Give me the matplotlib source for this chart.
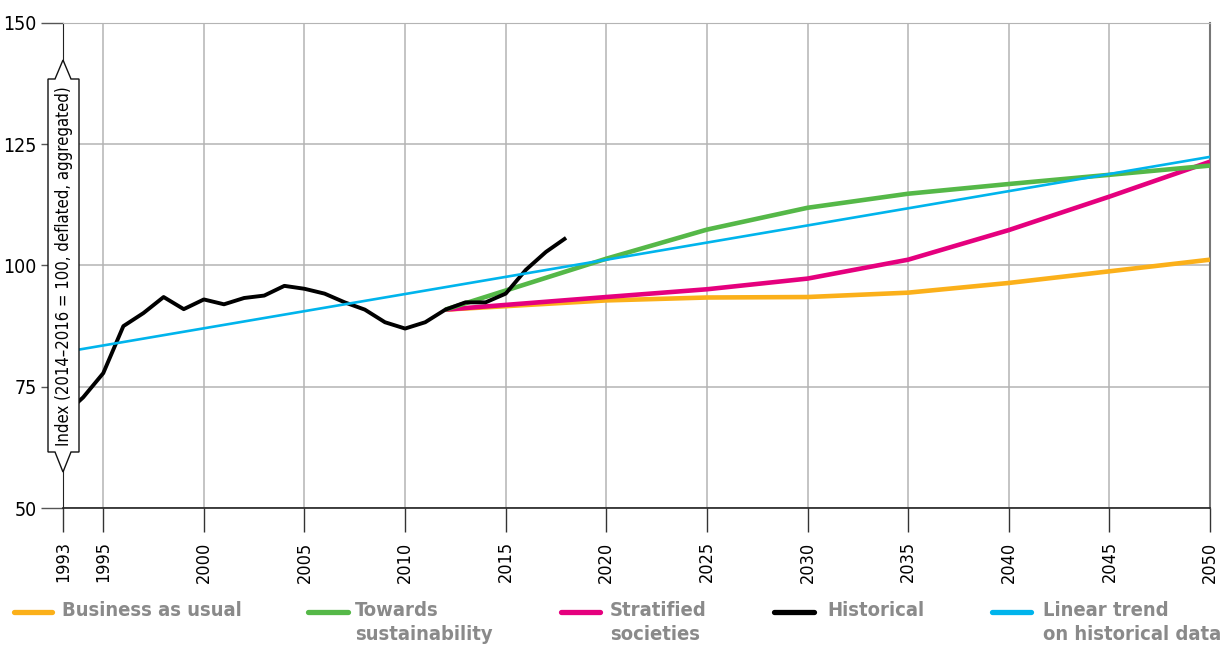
import matplotlib
matplotlib.use("Agg")
import matplotlib.pyplot as plt
from matplotlib.lines import Line2D
from matplotlib.patches import Polygon

plt.rcParams['font.family'] = ['DejaVu Sans']
plt.rcParams['font.stretch'] = 'condensed'

# ---- data ----
hist_years = list(range(1993, 2019))
hist_vals = [69.0, 72.8, 77.8, 87.5, 90.2, 93.5, 91.0, 93.0, 92.0, 93.3, 93.8, 95.8,
             95.2, 94.2, 92.4, 90.9, 88.3, 87.0, 88.3, 90.9, 92.4, 92.4, 94.2, 99.1,
             102.8, 105.7]
scen_years = [2012, 2020, 2025, 2030, 2035, 2040, 2045, 2050]
bau_vals = [90.9, 92.8, 93.4, 93.5, 94.4, 96.4, 98.8, 101.2]
sust_vals = [90.9, 101.4, 107.4, 111.9, 114.8, 116.8, 118.7, 120.6]
strat_vals = [90.9, 93.5, 95.1, 97.3, 101.2, 107.3, 114.2, 121.4]
trend_years = [1993, 2050]
trend_vals = [82.1, 122.4]

x_ticks = [1993, 1995, 2000, 2005, 2010, 2015, 2020, 2025, 2030, 2035, 2040, 2045, 2050]
y_ticks = [50, 75, 100, 125, 150]
y_label = "Index (2014–2016 = 100, deflated, aggregated)"
legend_labels = ["Business as usual", "Towards\nsustainability", "Stratified\nsocieties",
                 "Historical", "Linear trend\non historical data"]

C_BAU = "#FBB01A"
C_SUST = "#55B848"
C_STRAT = "#E5007E"
C_HIST = "#000000"
C_TREND = "#00B4EC"
C_TEXT = "#8a8a8a"

W, H = 1221, 648
fig = plt.figure(figsize=(W / 100, H / 100), dpi=100)
ax = fig.add_axes([63 / W, (H - 508) / H, (1210 - 63) / W, (508 - 23) / H])

ax.set_xlim(1993, 2050)
ax.set_ylim(50, 150)
ax.set_xticks(x_ticks)
ax.set_yticks(y_ticks)
ax.set_xticklabels([str(t) for t in x_ticks], rotation=90, fontsize=13)
ax.set_yticklabels([str(t) for t in y_ticks], fontsize=14)
ax.grid(True, color="#b4b4b4", linewidth=1.1, zorder=0)
ax.set_axisbelow(True)
ax.tick_params(axis='x', length=17, width=1, color="#333333", pad=7)
ax.tick_params(axis='y', length=16, width=1, color="#555555", pad=3)
ax.spines['top'].set_color("#b4b4b4")
ax.spines['right'].set_color("#777777")
ax.spines['right'].set_linewidth(1.5)
ax.spines['left'].set_color("#222222")
ax.spines['bottom'].set_color("#222222")
ax.spines['bottom'].set_linewidth(1.2)

ax.plot(scen_years, bau_vals, color=C_BAU, lw=3.3, zorder=3, solid_capstyle='butt')
ax.plot(scen_years, strat_vals, color=C_STRAT, lw=3.3, zorder=4, solid_capstyle='butt')
ax.plot(scen_years, sust_vals, color=C_SUST, lw=3.3, zorder=5, solid_capstyle='butt')
ax.plot(hist_years, hist_vals, color=C_HIST, lw=2.8, zorder=6, solid_capstyle='butt')
ax.plot(trend_years, trend_vals, color=C_TREND, lw=1.9, zorder=7, solid_capstyle='butt')

# y-label box (double-headed arrow shape)
def fp(x, y):
    return (x / W, 1 - y / H)

pts = [fp(63, 60), fp(71, 79), fp(79, 79), fp(79, 452), fp(71, 452), fp(63, 472),
       fp(55, 452), fp(48, 452), fp(48, 79), fp(55, 79)]
poly = Polygon(pts, closed=True, transform=fig.transFigure, facecolor="white",
               edgecolor="#111111", linewidth=1.0, zorder=10)
fig.add_artist(poly)
fig.text(64 / W, 1 - 266 / H, y_label, rotation=90, ha='center', va='center',
         fontsize=12, color="black", zorder=11)

# legend
legend_items = [
    (14, 52, 62, C_BAU),
    (308, 348, 355, C_SUST),
    (561, 600, 610, C_STRAT),
    (774, 814, 827, C_HIST),
    (992, 1031, 1043, C_TREND),
]
ly = 612
for (x0, x1, tx, col), lab in zip(legend_items, legend_labels):
    fig.add_artist(Line2D([x0 / W, x1 / W], [1 - ly / H, 1 - ly / H], color=col,
                          lw=3.8, solid_capstyle='round', transform=fig.transFigure))
    fig.text(tx / W, 1 - 601 / H, lab, ha='left', va='top', fontsize=14.5,
             fontweight='bold', color=C_TEXT, linespacing=1.3)

fig.savefig("out.png", dpi=100)
